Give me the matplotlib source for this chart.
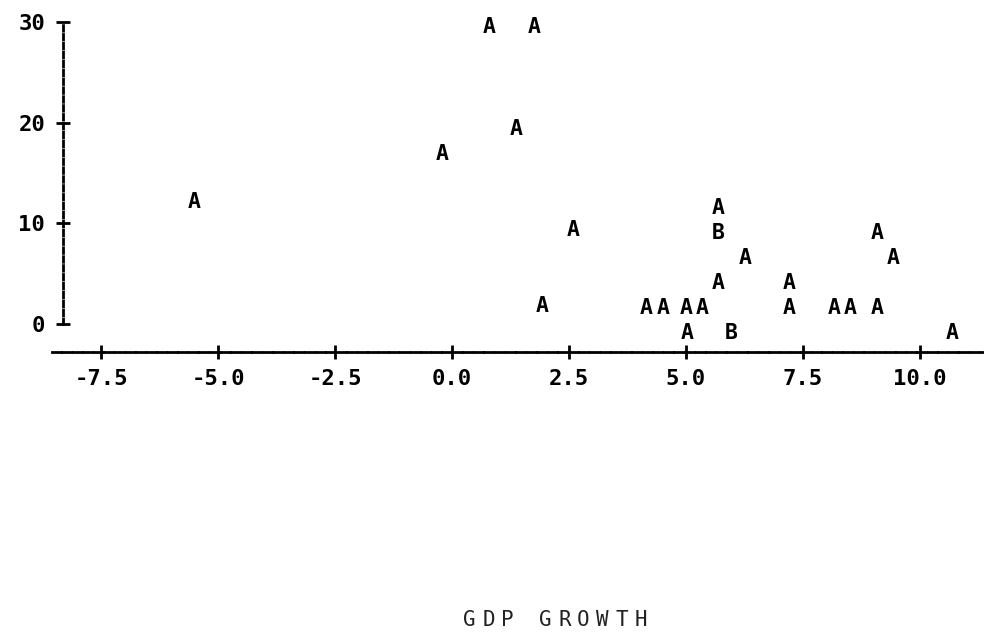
import matplotlib
matplotlib.use('Agg')
import matplotlib.pyplot as plt

# plotted observations (A = 1 obs, B = 2 obs)
gdp_growth = [0.79, 1.75, 1.37, -0.21, -5.51, 2.59, 1.92,
              5.68, 5.68, 6.26, 5.68, 7.20,
              4.15, 4.51, 5.00, 5.34, 7.20, 8.16, 8.50, 9.08,
              9.08, 9.42, 5.02, 5.96, 10.68]
yvals = [29.5, 29.5, 19.4, 16.9, 12.1, 9.3, 1.8,
         11.5, 9.0, 6.6, 4.1, 4.1,
         1.6, 1.6, 1.6, 1.6, 1.6, 1.6, 1.6, 1.6,
         9.0, 6.6, -0.9, -0.9, -0.9]
symbols = ['A', 'A', 'A', 'A', 'A', 'A', 'A',
           'A', 'B', 'A', 'A', 'A',
           'A', 'A', 'A', 'A', 'A', 'A', 'A', 'A',
           'A', 'A', 'A', 'B', 'A']

xticks = [-7.5, -5.0, -2.5, 0.0, 2.5, 5.0, 7.5, 10.0]
yticks = [0, 10, 20, 30]
xlabel = 'GDP GROWTH'

mono = 'DejaVu Sans Mono'

fig = plt.figure(figsize=(9.84, 6.37), dpi=100)
ax = fig.add_axes([52 / 984, 1 - 352 / 637, 1 - 52 / 984, (352 - 12) / 637])
ax.set_xlim(-8.55, 11.37)
ax.set_ylim(-2.78, 31.0)

for x, y, s in zip(gdp_growth, yvals, symbols):
    ax.text(x, y, s, ha='center', va='center', fontsize=15.5,
            fontfamily=mono, fontweight='bold')

# printer-plot style axes
ax.spines['top'].set_visible(False)
ax.spines['right'].set_visible(False)
ax.spines['left'].set_position(('data', -8.31))
ax.spines['left'].set_bounds(0, 30)
ax.spines['left'].set_linestyle((0, (2, 1.2)))
ax.spines['left'].set_linewidth(2)
ax.spines['bottom'].set_linestyle((0, (3, 0.8)))
ax.spines['bottom'].set_linewidth(2)

ax.set_xticks(xticks)
ax.set_xticklabels(['%.1f' % t for t in xticks])
ax.set_yticks(yticks)
ax.tick_params(axis='both', direction='inout', length=10, width=2,
               labelsize=16)
ax.tick_params(axis='x', pad=7)
ax.tick_params(axis='y', pad=8)
for lab in ax.get_xticklabels() + ax.get_yticklabels():
    lab.set_fontfamily(mono)
    lab.set_fontweight('bold')

# wide-spaced axis title, one character per print column
pitch = 19 / 984
x0 = 555 / 984 - pitch * (len(xlabel) - 1) / 2
for i, ch in enumerate(xlabel):
    fig.text(x0 + i * pitch, 1 - 620 / 637, ch, ha='center', va='center',
             fontsize=15, fontfamily=mono, color='#222222')

fig.savefig('out.png', dpi=100)
